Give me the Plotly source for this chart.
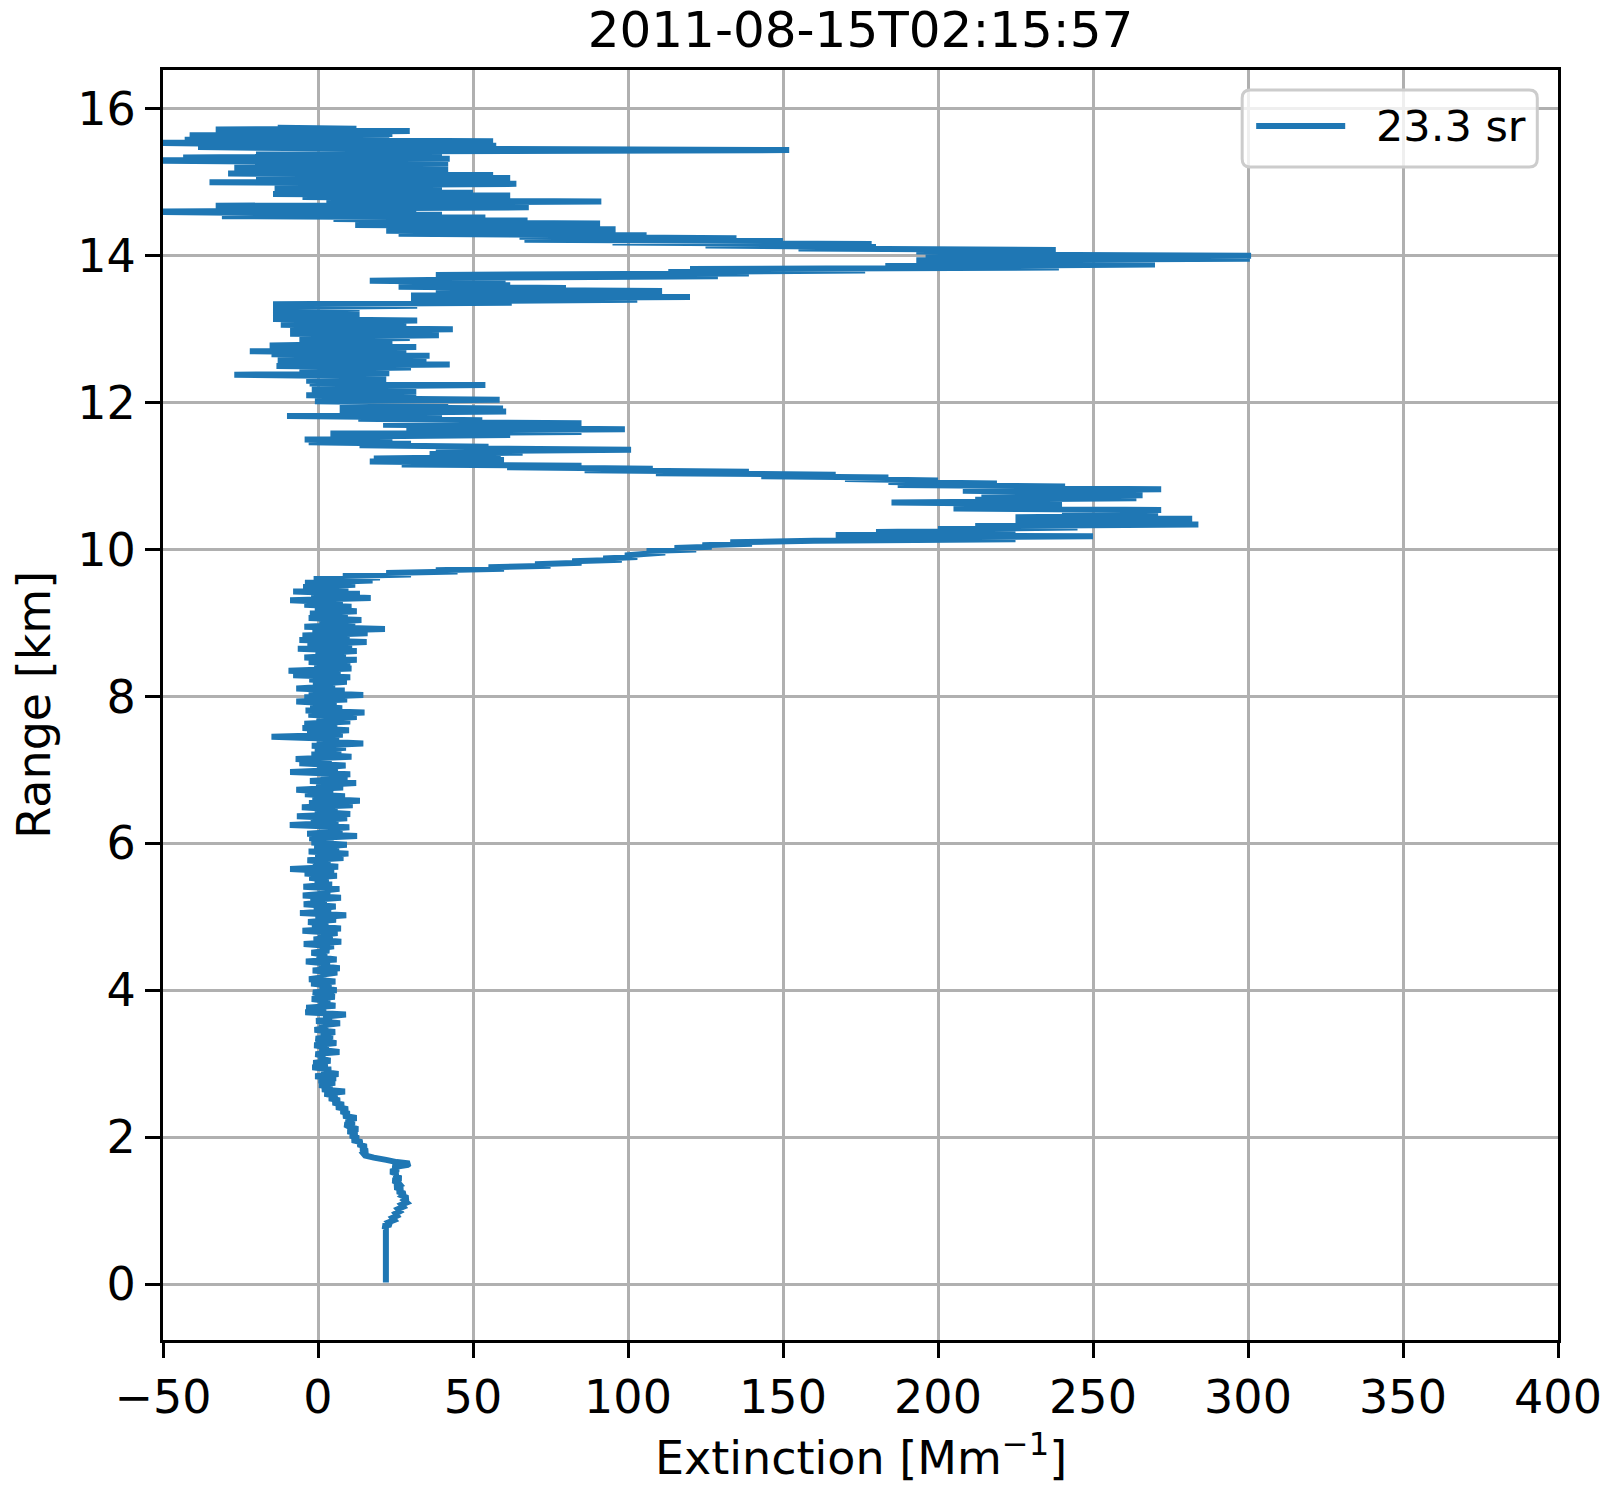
"""Lidar extinction profile, 2011-08-15T02:15:57."""

import plotly.graph_objects as go

TITLE = "2011-08-15T02:15:57"
LIDAR_RATIO_LABEL = "23.3 sr"
X_TICKS = [-50, 0, 50, 100, 150, 200, 250, 300, 350, 400]
Y_TICKS = [0, 2, 4, 6, 8, 10, 12, 14, 16]

# range gates [km] and extinction [Mm^-1], by layer
range_overlap = [0.02, 0.40, 0.77]
ext_overlap = [21.9, 21.9, 21.9]

range_boundary = [
    0.79, 0.81, 0.84, 0.87, 0.90, 0.93, 0.96, 0.99, 1.02, 1.05,
    1.08, 1.11, 1.14, 1.17, 1.20, 1.23, 1.26, 1.29, 1.32, 1.35,
    1.38, 1.41, 1.44, 1.47, 1.50, 1.53, 1.56, 1.59, 1.62, 1.64,
    1.66, 1.69, 1.72, 1.75, 1.78, 1.81, 1.84,
]
ext_boundary = [
    21.0, 23.5, 22.8, 24.6, 24.0, 25.5, 25.0, 26.4, 25.8, 27.5,
    26.9, 28.6, 27.8, 28.9, 27.2, 28.0, 25.6, 27.3, 24.8, 26.5,
    25.9, 24.2, 26.8, 24.6, 25.7, 23.4, 26.0, 24.1, 28.9, 29.5,
    25.4, 22.0, 18.0, 15.2, 14.6, 15.9, 13.8,
]

range_transition = [
    1.87, 1.90, 1.93, 1.96, 1.99, 2.02, 2.05, 2.08, 2.11, 2.14,
    2.17, 2.20, 2.23, 2.26, 2.29, 2.32, 2.35, 2.38, 2.41, 2.44,
    2.47, 2.50, 2.53, 2.56, 2.59, 2.62, 2.65, 2.68, 2.71, 2.74,
]
ext_transition = [
    15.6, 12.9, 14.2, 11.0, 13.1, 10.4, 12.6, 9.6, 12.9, 10.2,
    8.7, 11.8, 9.0, 12.4, 8.2, 10.1, 7.4, 9.6, 5.9, 8.3,
    4.8, 7.0, 3.6, 6.2, 2.1, 8.7, 1.3, 4.6, 0.4, 5.5,
]

range_lower_trop = [
    2.77, 2.80, 2.83, 2.86, 2.89, 2.92, 2.95, 2.98, 3.01, 3.04,
    3.07, 3.10, 3.13, 3.16, 3.19, 3.22, 3.25, 3.28, 3.31, 3.34,
    3.37, 3.40, 3.43, 3.46, 3.49, 3.52, 3.55, 3.58, 3.61, 3.64,
    3.67, 3.70, 3.73, 3.76, 3.79, 3.82, 3.85, 3.88, 3.91, 3.94,
    3.97, 4.00, 4.03, 4.06, 4.09, 4.12, 4.15, 4.18, 4.21, 4.24,
    4.27, 4.30, 4.33, 4.36, 4.39, 4.42, 4.45, 4.48, 4.51, 4.54,
    4.57, 4.60, 4.63, 4.66, 4.69, 4.72, 4.75, 4.78, 4.81, 4.84,
    4.87, 4.90, 4.93, 4.96, 4.99, 5.02, 5.05, 5.08, 5.11, 5.14,
    5.17, 5.20, 5.23, 5.26, 5.29, 5.32, 5.35, 5.38, 5.41, 5.44,
    5.47, 5.50,
]
ext_lower_trop = [
    0.2, 5.8, -0.9, 6.6, 1.0, 4.2, -1.8, 3.1, -1.5, 4.0,
    0.3, 2.2, -0.8, 6.9, 0.5, 3.4, -1.2, 5.9, 1.6, -0.7,
    4.8, 0.9, 5.5, -1.1, 3.2, 0.4, 7.1, -0.6, 4.4, 1.8,
    9.0, -4.1, 2.6, -3.8, 5.6, 0.2, 3.9, -2.0, 5.4, 1.1,
    -1.6, 6.0, 0.6, 4.3, -2.2, 5.6, -2.9, 2.5, 0.9, 6.2,
    -1.7, 7.0, 0.3, 3.8, -3.9, 6.0, -0.4, 2.9, -2.1, 3.6,
    0.7, 5.1, -4.6, 7.5, -1.4, 4.7, 0.1, 6.3, -5.0, 7.4,
    -1.9, 3.3, -3.2, 5.8, -0.8, 9.1, -5.8, 4.2, -1.3, 5.7,
    -4.6, 2.8, -2.4, 7.4, -4.9, 3.9, 0.2, 6.9, -4.7, 4.5,
    -1.0, 3.4,
]

range_upper_trop = [
    5.53, 5.56, 5.59, 5.62, 5.65, 5.68, 5.71, 5.74, 5.77, 5.80,
    5.83, 5.86, 5.89, 5.92, 5.95, 5.98, 6.01, 6.04, 6.07, 6.10,
    6.13, 6.16, 6.19, 6.22, 6.25, 6.28, 6.31, 6.34, 6.37, 6.40,
    6.43, 6.46, 6.49, 6.52, 6.55, 6.58, 6.61, 6.64, 6.67, 6.70,
    6.73, 6.76, 6.79, 6.82, 6.85, 6.88, 6.91, 6.94, 6.97, 7.00,
    7.03, 7.06, 7.09, 7.12, 7.15, 7.18, 7.21, 7.24, 7.27, 7.30,
    7.33, 7.36, 7.39, 7.42, 7.45, 7.48, 7.51, 7.54, 7.57, 7.60,
    7.63, 7.66, 7.69, 7.72, 7.75, 7.78, 7.81, 7.84, 7.87, 7.90,
    7.93, 7.96, 7.99, 8.02, 8.05, 8.08, 8.11, 8.14, 8.17, 8.20,
    8.23, 8.26, 8.29, 8.32, 8.35, 8.38, 8.41, 8.44, 8.47, 8.50,
    8.53, 8.56, 8.59, 8.62, 8.65, 8.68, 8.71, 8.74, 8.77, 8.80,
    8.83, 8.86, 8.89, 8.92, 8.95, 8.98, 9.01, 9.04, 9.07, 9.10,
    9.13, 9.16, 9.19, 9.22, 9.25, 9.28, 9.31, 9.34, 9.37, 9.40,
    9.43, 9.46, 9.49, 9.52, 9.55, 9.58,
]
ext_upper_trop = [
    -2.8, 6.1, -4.3, 5.2, -9.0, 6.5, -1.6, 4.0, -3.4, 8.2,
    -0.9, 9.8, -3.0, 6.8, -1.2, 9.3, -2.1, 5.0, -2.8, 12.6,
    -3.5, 7.9, 0.4, 10.1, -9.1, 6.6, -2.3, 9.4, -6.8, 10.4,
    -1.0, 6.3, -5.2, 11.2, -2.9, 13.5, -1.8, 8.7, -4.2, 4.9,
    -7.0, 8.1, -0.6, 12.3, -2.6, 9.5, 0.8, 10.4, -9.0, 6.4,
    -0.3, 8.9, -6.0, 4.4, -7.2, 10.8, -2.1, 7.5, -1.0, 9.0,
    -2.0, 14.6, -0.4, 6.8, -15.0, 8.0, -3.5, 10.0, -5.0, 6.2,
    -4.4, 10.4, -0.5, 12.5, -3.1, 15.0, -4.0, 7.8, -2.5, 6.0,
    -7.0, 9.4, -4.4, 14.6, -3.0, 8.6, -7.0, 5.5, -1.6, 9.3,
    -2.8, 10.4, -8.0, 7.3, -9.5, 10.8, -1.2, 10.4, -3.0, 12.5,
    -4.4, 9.0, -0.8, 12.5, -6.5, 11.0, -3.4, 15.7, -6.0, 10.2,
    -5.0, 16.0, -1.8, 21.6, -4.4, 12.0, 0.5, 14.0, -3.0, 9.6,
    -2.6, 12.5, -1.0, 10.8, -4.4, 8.0, -9.0, 17.0, -2.2, 13.5,
    -8.0, 9.8, -4.8, 12.0, -4.2, 17.6,
]

range_cirrus_low = [
    9.60, 9.62, 9.64, 9.66, 9.68, 9.70, 9.72, 9.74, 9.76, 9.78,
    9.80, 9.82, 9.84, 9.86, 9.88, 9.90, 9.92, 9.94, 9.96, 9.98,
    10.00, 10.02, 10.04, 10.06, 10.08, 10.10, 10.12, 10.14, 10.16, 10.18,
    10.20, 10.22, 10.24, 10.26, 10.28, 10.30, 10.32, 10.34, 10.36, 10.38,
    10.40, 10.42, 10.44, 10.46, 10.48, 10.50, 10.52, 10.54, 10.56, 10.58,
    10.60, 10.62, 10.64, 10.66, 10.68, 10.70, 10.72, 10.74, 10.76, 10.78,
    10.80, 10.82, 10.84, 10.86, 10.88, 10.90, 10.92, 10.94, 10.96, 10.98,
    11.00, 11.02, 11.04, 11.06, 11.08, 11.10, 11.12, 11.14, 11.16, 11.18,
    11.20, 11.22, 11.24, 11.26,
]
ext_cirrus_low = [
    -1.4, 20.0, 8.0, 30.0, 22.0, 45.0, 38.0, 60.0, 55.0, 75.0,
    70.0, 85.0, 82.0, 98.0, 92.0, 103.0, 99.0, 105.0, 112.0, 106.0,
    122.0, 115.0, 127.0, 124.0, 140.0, 133.0, 160.0, 225.0, 172.0, 250.0,
    167.0, 225.0, 180.0, 222.0, 200.0, 245.0, 212.0, 284.0, 225.0, 279.0,
    240.0, 282.0, 225.0, 271.0, 242.0, 270.0, 240.0, 272.0, 205.0, 240.0,
    206.0, 236.0, 185.0, 240.0, 212.0, 264.0, 215.0, 266.0, 214.0, 250.0,
    208.0, 272.0, 215.0, 241.0, 187.0, 219.0, 184.0, 200.0, 170.0, 184.0,
    143.0, 167.0, 109.0, 139.0, 86.0, 108.0, 61.0, 85.0, 27.0, 60.0,
    16.7, 60.0, 18.0, 58.0,
]

range_cirrus_mid = [
    11.28, 11.30, 11.32, 11.34, 11.36, 11.38, 11.40, 11.42, 11.44, 11.46,
    11.48, 11.50, 11.52, 11.54, 11.56, 11.58, 11.60, 11.62, 11.64, 11.66,
    11.68, 11.70, 11.72, 11.74, 11.76, 11.78, 11.80, 11.82, 11.84, 11.86,
    11.88, 11.90, 11.92, 11.94, 11.96, 11.98, 12.00, 12.02, 12.04, 12.06,
    12.08, 12.10, 12.12, 12.14, 12.16, 12.18, 12.20, 12.22, 12.24, 12.26,
    12.28, 12.30, 12.32, 12.34, 12.36, 12.38, 12.40, 12.42, 12.44, 12.46,
    12.48, 12.50, 12.52, 12.54, 12.56, 12.58, 12.60, 12.62, 12.64, 12.66,
    12.68, 12.70, 12.72, 12.74, 12.76, 12.78, 12.80, 12.82, 12.84, 12.86,
    12.88, 12.90, 12.92, 12.94, 12.96, 12.98, 13.00, 13.02, 13.04, 13.06,
    13.08, 13.10, 13.12, 13.14, 13.16, 13.18, 13.20, 13.22, 13.24, 13.26,
    13.28, 13.30, 13.32, 13.34,
]
ext_cirrus_mid = [
    58.0, 36.0, 66.0, 38.0, 101.0, 45.0, 55.0, 13.4, 30.0, -3.0,
    24.0, -4.3, 23.0, 10.0, 62.0, 4.0, 85.0, 35.0, 99.0, 28.5,
    72.0, 21.0, 85.0, 25.0, 53.0, 13.0, 40.0, -10.0, 36.0, 7.0,
    60.7, 15.0, 59.7, 7.0, 42.0, 10.0, 35.0, -1.0, 58.6, 6.0,
    31.7, -3.8, 22.0, 3.0, 31.7, -2.0, 26.0, 5.0, 54.0, -2.7,
    18.0, -3.8, 22.0, 4.0, 15.0, -27.0, 23.0, 2.0, 20.0, -6.0,
    30.0, -13.4, 42.5, -4.0, 35.0, -13.0, 20.0, -2.0, 36.0, -15.0,
    18.0, -22.0, 28.5, -5.0, 31.7, -15.6, 12.0, -3.0, 24.0, -6.0,
    29.6, 3.0, 39.0, -9.0, 22.0, -4.0, 43.5, -9.0, 18.0, -12.0,
    28.5, 2.0, 32.0, -14.5, 10.0, -8.0, 13.4, -14.5, 8.0, -12.0,
    13.4, -14.5, 32.0, -14.5,
]

range_cirrus_peak = [
    13.36, 13.38, 13.40, 13.42, 13.44, 13.46, 13.48, 13.50, 13.52, 13.54,
    13.56, 13.58, 13.60, 13.62, 13.64, 13.66, 13.68, 13.70, 13.72, 13.74,
    13.76, 13.78, 13.80, 13.82, 13.84, 13.86, 13.88, 13.90, 13.92, 13.94,
    13.96, 13.98, 14.00, 14.02, 14.04, 14.06, 14.08, 14.10, 14.12, 14.14,
    14.16, 14.18, 14.20, 14.22, 14.24, 14.26, 14.28, 14.30, 14.32, 14.34,
    14.36, 14.38, 14.40, 14.42, 14.44, 14.46, 14.48,
]
ext_cirrus_peak = [
    62.5, 30.0, 103.0, 35.0, 120.0, 30.0, 95.0, 42.0, 111.0, 38.0,
    80.0, 26.0, 62.0, 30.0, 60.5, 16.7, 55.0, 40.0, 129.0, 38.0,
    139.0, 113.0, 176.5, 120.0, 239.0, 183.0, 270.0, 200.0, 262.0, 193.0,
    300.6, 205.0, 301.0, 196.0, 238.0, 193.0, 238.0, 155.0, 180.0, 125.0,
    178.6, 95.0, 150.0, 66.6, 135.0, 65.0, 106.0, 26.0, 96.0, 22.0,
    96.0, 24.0, 80.0, 12.0, 91.0, 20.0, 67.6,
]

range_cirrus_top = [
    14.50, 14.52, 14.54, 14.56, 14.58, 14.60, 14.62, 14.64, 14.66, 14.68,
    14.70, 14.72, 14.74, 14.76, 14.78, 14.80, 14.82, 14.84, 14.86, 14.88,
    14.90, 14.92, 14.94, 14.96, 14.98, 15.00, 15.02, 15.04, 15.06, 15.08,
    15.10, 15.12, 15.14, 15.16, 15.18, 15.20, 15.22, 15.24, 15.26, 15.28,
    15.30, 15.32, 15.34, 15.36, 15.38, 15.40, 15.42, 15.44, 15.46, 15.48,
    15.50, 15.52, 15.54, 15.56, 15.58, 15.60, 15.62, 15.64, 15.66, 15.68,
    15.70, 15.72, 15.73, 15.745,
]
ext_cirrus_top = [
    5.0, 54.0, -31.0, 40.0, -10.0, -58.0, 31.7, -20.0, 68.0, -33.0,
    45.0, 8.0, 91.4, 2.7, 60.0, -5.0, 62.0, -14.5, 50.0, -10.0,
    40.0, -14.0, 30.0, -5.0, 64.0, -35.0, 55.0, -14.5, 62.0, -20.0,
    56.5, -29.0, 35.0, -5.0, 42.0, -27.0, 30.0, -15.0, 42.0, -10.0,
    -62.0, 42.5, -43.5, 35.0, -20.0, 40.0, 3.0, 152.0, 10.0, -38.7,
    57.5, -20.0, -55.0, 56.5, -43.0, 23.0, -30.0, -41.4, 24.0, -15.0,
    29.6, -33.0, 12.4, -13.0,
]

range_km = (range_overlap + range_boundary + range_transition
            + range_lower_trop + range_upper_trop + range_cirrus_low
            + range_cirrus_mid + range_cirrus_peak + range_cirrus_top)
extinction = (ext_overlap + ext_boundary + ext_transition
              + ext_lower_trop + ext_upper_trop + ext_cirrus_low
              + ext_cirrus_mid + ext_cirrus_peak + ext_cirrus_top)
assert len(range_km) == len(extinction)

BLUE = "#1f77b4"
GRID = "#b0b0b0"
FONT = "DejaVu Sans"

fig = go.Figure()
fig.add_trace(
    go.Scatter(
        x=extinction,
        y=range_km,
        mode="lines",
        line=dict(color=BLUE, width=6, simplify=False),
        name=LIDAR_RATIO_LABEL,
        showlegend=False,
    )
)

axis_style = dict(
    showgrid=True,
    gridcolor=GRID,
    gridwidth=3,
    showline=True,
    linecolor="black",
    linewidth=3,
    mirror=True,
    ticks="outside",
    ticklen=15,
    tickwidth=3,
    tickcolor="black",
    zeroline=False,
    tickfont=dict(size=46, color="black"),
)
fig.update_xaxes(range=[-50, 400], tickvals=X_TICKS, **axis_style)
fig.update_yaxes(range=[-0.7625, 16.53], tickvals=Y_TICKS, **axis_style)


def px_x(x):
    return (x - 163.3) / 1394.4


def px_y(y):
    return (1340 - y) / 1270


# legend drawn by hand so the sample line matches matplotlib's length
x0, x1 = px_x(1242), px_x(1537)
y0, y1 = px_y(90), px_y(167)
rx, ry = 8 / 1394.4, 8 / 1270
box = (
    f"M {x0 + rx},{y0} L {x1 - rx},{y0} Q {x1},{y0} {x1},{y0 - ry} "
    f"L {x1},{y1 + ry} Q {x1},{y1} {x1 - rx},{y1} "
    f"L {x0 + rx},{y1} Q {x0},{y1} {x0},{y1 + ry} "
    f"L {x0},{y0 - ry} Q {x0},{y0} {x0 + rx},{y0} Z"
)
fig.add_shape(type="path", path=box, xref="paper", yref="paper",
              fillcolor="rgba(255,255,255,0.8)",
              line=dict(color="#cccccc", width=3))
fig.add_shape(type="line", xref="paper", yref="paper",
              x0=px_x(1256), x1=px_x(1345), y0=px_y(126), y1=px_y(126),
              line=dict(color=BLUE, width=6))
fig.add_annotation(text=LIDAR_RATIO_LABEL, xref="paper", yref="paper",
                   x=px_x(1374), y=px_y(126), xanchor="left", yanchor="middle",
                   showarrow=False, font=dict(size=43, color="black"))

# axis labels
fig.add_annotation(text="Extinction [Mm<sup>−1</sup>]", xref="paper", yref="paper",
                   x=0.5, y=px_y(1455), xanchor="center", yanchor="middle",
                   showarrow=False, font=dict(size=46, color="black"))
fig.add_annotation(text="Range [km]", xref="paper", yref="paper",
                   x=px_x(34), y=0.5, xanchor="center", yanchor="middle",
                   textangle=-90, showarrow=False,
                   font=dict(size=46, color="black"))

fig.update_layout(
    width=1613,
    height=1490,
    margin=dict(l=163, r=55, t=70, b=150, autoexpand=False),
    paper_bgcolor="white",
    plot_bgcolor="white",
    font=dict(family=FONT, size=46, color="black"),
    showlegend=False,
    title=dict(text=TITLE, x=0.5, xref="paper", xanchor="center",
               y=1 - 29 / 1490, yref="container", yanchor="middle",
               font=dict(size=50, color="black")),
)

# drop the browser's default body margin so the figure sits at the page origin
fig.write_html(
    "out.html",
    config={"displayModeBar": False},
    post_script="document.body.style.margin = '0';",
)
